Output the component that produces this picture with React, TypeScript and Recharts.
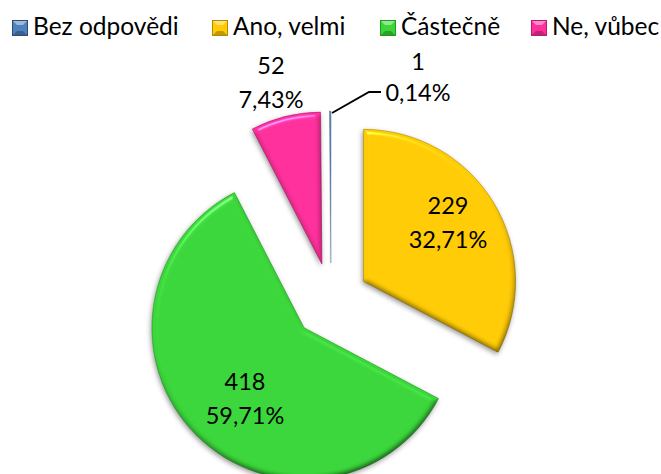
import React from 'react';
import { PieChart, Pie, Cell, Legend, Sector } from 'recharts';

const categories = ['Bez odpovědi', 'Ano, velmi', 'Částečně', 'Ne, vůbec'];
const counts = [1, 229, 418, 52];
const percents = ['0,14%', '32,71%', '59,71%', '7,43%'];
const colors = ['#4F81BD', '#FFCB05', '#3AD63A', '#FF2F9C'];
const edgeColors = ['#2C4D75', '#B58A00', '#1F9A1F', '#B81A6E'];

// label centre relative to the pie centre
const labelOffsets = [
  [87, -231],
  [117, -87],
  [-86, 89],
  [-60, -227],
];
const legendX = [12, 212, 380, 531];

const FONT = 'Lato, "Noto Sans", sans-serif';
const EXPLODE = 38;
const LEGEND_HEIGHT = 50;
const RAD = Math.PI / 180;

const data = categories.map((name, i) => ({ name, value: counts[i] }));

const ExplodedSlice = (props: any) => {
  const { cx, cy, innerRadius, outerRadius, startAngle, endAngle, midAngle, fill, index } = props;
  const mid = midAngle ?? (startAngle + endAngle) / 2;
  const dx = EXPLODE * Math.cos(mid * RAD);
  const dy = -EXPLODE * Math.sin(mid * RAD);
  return (
    <Sector
      cx={cx + dx}
      cy={cy + dy}
      innerRadius={innerRadius}
      outerRadius={outerRadius}
      startAngle={startAngle}
      endAngle={endAngle}
      fill={fill}
      stroke={edgeColors[index]}
      strokeWidth={index === 0 ? 0.3 : 0.6}
      filter="url(#bevel)"
    />
  );
};

const SliceLabel = (props: any) => {
  const { cx, cy, index } = props;
  const [ox, oy] = labelOffsets[index];
  const x = cx + ox;
  const y = cy + oy;
  const gap = index === 0 ? 31 : 34;
  return (
    <g>
      {index === 0 && (
        <polyline
          points={`${cx + 1},${cy - 188} ${cx + 38},${cy - 209} ${cx + 50},${cy - 209}`}
          fill="none"
          stroke="#000"
          strokeWidth={2}
        />
      )}
      <text x={x} y={y} textAnchor="middle" fontFamily={FONT} fontSize={23.5} fill="#000">
        {counts[index]}
      </text>
      <text x={x} y={y + gap} textAnchor="middle" fontFamily={FONT} fontSize={23.5} fill="#000">
        {percents[index]}
      </text>
    </g>
  );
};

const LegendIcon = ({ color, edge }: { color: string; edge: string }) => (
  <svg width={16} height={16} style={{ position: 'absolute', left: 0, top: 12 }}>
    <rect x={0.5} y={0.5} width={15} height={15} fill={color} stroke={edge} />
    <polygon points="1,1 15,1 11,5 5,5" fill="#fff" opacity={0.45} />
    <polygon points="1,15 15,15 11,11 5,11" fill="#000" opacity={0.25} />
  </svg>
);

const ChartLegend = () => (
  <div style={{ position: 'relative', width: 661, height: LEGEND_HEIGHT }}>
    {categories.map((name, i) => (
      <div
        key={name}
        style={{
          position: 'absolute',
          left: legendX[i],
          top: 8,
          paddingLeft: 21,
          fontFamily: FONT,
          fontSize: 24.5,
          lineHeight: '36px',
          whiteSpace: 'nowrap',
          color: '#000',
        }}
      >
        <LegendIcon color={colors[i]} edge={edgeColors[i]} />
        {name}
      </div>
    ))}
  </div>
);

export default function App() {
  return (
    <div style={{ position: 'absolute', left: 0, top: 0, width: 661, height: 474, overflow: 'hidden', background: '#fff' }}>
      <PieChart width={661} height={474} margin={{ top: 0, right: 0, bottom: 0, left: 0 }}>
        <defs>
          <filter id="bevel" x="-30%" y="-30%" width="160%" height="160%" colorInterpolationFilters="sRGB">
            <feGaussianBlur in="SourceAlpha" stdDeviation="2.5" result="blur" />
            <feDiffuseLighting in="blur" surfaceScale="1.5" diffuseConstant="1.3" lightingColor="#fff" result="diff">
              <feDistantLight azimuth="250" elevation="50" />
            </feDiffuseLighting>
            <feSpecularLighting in="blur" surfaceScale="3" specularConstant="0.7" specularExponent="60" lightingColor="#fff" result="spec">
              <feDistantLight azimuth="250" elevation="50" />
            </feSpecularLighting>
            <feComposite in="SourceGraphic" in2="diff" operator="arithmetic" k1="1" k2="0" k3="0" k4="0" result="shaded" />
            <feComposite in="spec" in2="SourceAlpha" operator="in" result="specIn" />
            <feComposite in="shaded" in2="specIn" operator="arithmetic" k1="0" k2="1" k3="0.6" k4="0" result="lit" />
            <feDropShadow in="lit" dx="-1" dy="2" stdDeviation="2.5" floodColor="#000" floodOpacity="0.4" />
          </filter>
        </defs>
        <Legend verticalAlign="top" align="left" wrapperStyle={{ left: 0, top: 0, width: 661 }} content={<ChartLegend />} />
        <Pie
          data={data}
          dataKey="value"
          nameKey="name"
          cx={331}
          cy={301 - LEGEND_HEIGHT}
          innerRadius={0}
          outerRadius={152}
          startAngle={90.5}
          endAngle={-269.5}
          paddingAngle={0}
          stroke="none"
          shape={ExplodedSlice}
          label={SliceLabel}
          labelLine={false}
          isAnimationActive={false}
        >
          {data.map((d, i) => (
            <Cell key={d.name} fill={colors[i]} />
          ))}
        </Pie>
      </PieChart>
    </div>
  );
}
